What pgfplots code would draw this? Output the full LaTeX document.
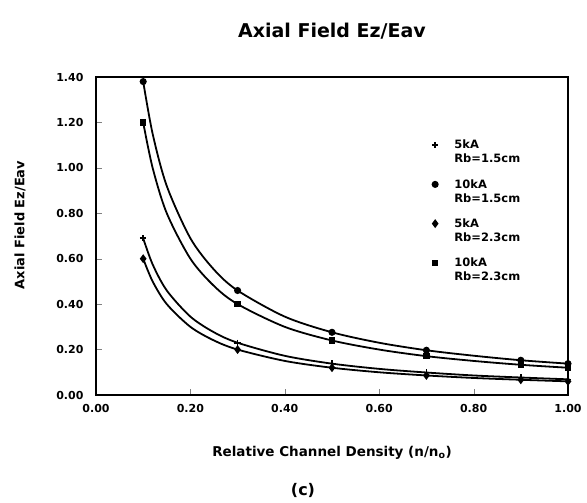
\documentclass[border=0pt]{standalone}
\usepackage{fontspec}
\setmainfont{DejaVu Sans}
\usepackage{pgfplots}
\pgfplotsset{compat=1.18}
\begin{document}
\begin{tikzpicture}
\begin{axis}[
 scale only axis,width=472pt,height=318pt,
 xmin=0,xmax=1,ymin=0,ymax=1.4,
 xtick={0,0.2,...,1.0},ytick={0,0.2,...,1.4},
 tick pos=left,tick align=inside,major tick length=6pt,
 /pgf/number format/.cd,fixed,fixed zerofill,precision=2,assume math mode=true,
 /pgfplots/.cd,
 tick label style={font=\fontsize{11}{13}\selectfont\bfseries},
 xticklabel style={yshift=-6pt},
 yticklabel style={xshift=-9pt},
 axis line style={line width=1.6pt},
 every axis plot/.append style={line width=1.8pt,black},
 legend image code/.code={\draw[#1] plot coordinates {(0.1cm,7pt)};},
 legend style={draw=none,fill=none,at={(0.705,0.815)},anchor=north west,
   font=\fontsize{11.5}{14}\selectfont\bfseries,row sep=11pt,
   /tikz/every odd column/.append style={column sep=14pt},
   cells={align=left},legend cell align=left},
 clip=false,
]
% curves
\addplot[smooth,forget plot] coordinates {(0.1,0.69) (0.12,0.575) (0.15,0.46) (0.2,0.345) (0.25,0.276) (0.3,0.23) (0.4,0.1725) (0.5,0.138) (0.6,0.115) (0.7,0.099) (0.8,0.086) (0.9,0.077) (1.0,0.069)};
\addplot[smooth,forget plot] coordinates {(0.1,1.38) (0.12,1.15) (0.15,0.92) (0.2,0.69) (0.25,0.552) (0.3,0.46) (0.4,0.345) (0.5,0.276) (0.6,0.23) (0.7,0.197) (0.8,0.173) (0.9,0.153) (1.0,0.138)};
\addplot[smooth,forget plot] coordinates {(0.1,0.60) (0.12,0.50) (0.15,0.40) (0.2,0.30) (0.25,0.24) (0.3,0.20) (0.4,0.15) (0.5,0.12) (0.6,0.10) (0.7,0.086) (0.8,0.075) (0.9,0.067) (1.0,0.060)};
\addplot[smooth,forget plot] coordinates {(0.1,1.20) (0.12,1.00) (0.15,0.80) (0.2,0.60) (0.25,0.48) (0.3,0.40) (0.4,0.30) (0.5,0.24) (0.6,0.20) (0.7,0.171) (0.8,0.15) (0.9,0.133) (1.0,0.120)};
% markers
\addplot[only marks,mark=+,mark size=3.2pt,mark options={line width=1.6pt}] coordinates {(0.1,0.69) (0.3,0.23) (0.5,0.138) (0.7,0.099) (0.9,0.077) (1.0,0.069)};
\addplot[only marks,mark=*,mark size=2.6pt] coordinates {(0.1,1.38) (0.3,0.46) (0.5,0.276) (0.7,0.197) (0.9,0.153) (1.0,0.138)};
\addplot[only marks,mark=diamond*,mark size=3pt] coordinates {(0.1,0.60) (0.3,0.20) (0.5,0.12) (0.7,0.086) (0.9,0.067) (1.0,0.060)};
\addplot[only marks,mark=square*,mark size=2.4pt] coordinates {(0.1,1.20) (0.3,0.40) (0.5,0.24) (0.7,0.171) (0.9,0.133) (1.0,0.120)};
\legend{5kA\\Rb=1.5cm,10kA\\Rb=1.5cm,5kA\\Rb=2.3cm,10kA\\Rb=2.3cm}
\end{axis}
\node[font=\fontsize{19}{21}\selectfont\bfseries] at (236pt,364pt) {Axial Field Ez/Eav};
\node[font=\fontsize{13.5}{15}\selectfont\bfseries] at (236pt,-58pt) {Relative Channel Density (n/n$_\mathbf{o}$)};
\node[font=\fontsize{16}{18}\selectfont\bfseries] at (207pt,-95pt) {(c)};
\node[font=\fontsize{13}{15}\selectfont\bfseries,rotate=90] at (-76pt,170pt) {Axial Field Ez/Eav};
\pgfresetboundingbox
\path[use as bounding box] (-96pt,-108pt) rectangle (491pt,395pt);
\end{tikzpicture}
\end{document}
